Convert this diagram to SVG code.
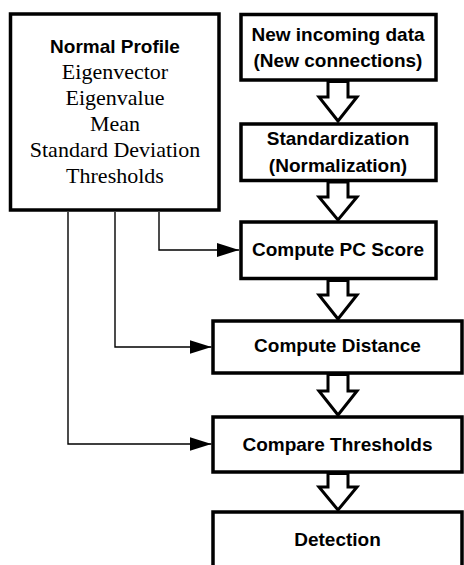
<svg xmlns="http://www.w3.org/2000/svg" width="464" height="565" viewBox="0 0 464 565">
<defs>
<style>
.box{fill:#fff;stroke:#000;stroke-width:3.5}
.blk{fill:#fff;stroke:#000;stroke-width:3;stroke-linejoin:miter}
.ln{fill:none;stroke:#000;stroke-width:1.4}
.t{font-family:"Liberation Sans",Arial,sans-serif;font-weight:bold;font-size:19px;text-anchor:middle;fill:#000}
.s{font-family:"Liberation Serif","Times New Roman",serif;font-size:22px;text-anchor:middle;fill:#000}
</style>
<marker id="ah" markerUnits="userSpaceOnUse" markerWidth="22" markerHeight="14" refX="22" refY="7" orient="auto">
<path d="M0,0 L22,7 L0,14 Z" fill="#000"/>
</marker>
</defs>
<rect width="464" height="565" fill="#fff"/>
<g id="connectors">
<path class="ln" d="M159,212 V250 H239" marker-end="url(#ah)"/>
<path class="ln" d="M115,212 V347 H211.5" marker-end="url(#ah)"/>
<path class="ln" d="M68,212 V444 H211.5" marker-end="url(#ah)"/>
<polygon class="blk" points="328,81.5 328,97 319,97 338,121 357,97 348,97 348,81.5"/>
<polygon class="blk" points="328,182 328,197 319,197 338,220 357,197 348,197 348,182"/>
<polygon class="blk" points="328,280.5 328,295 319,295 338,319 357,295 348,295 348,280.5"/>
<polygon class="blk" points="328,374.5 328,391 319,391 338,415 357,391 348,391 348,374.5"/>
<polygon class="blk" points="328,473.5 328,487 319,487 338,510 357,487 348,487 348,473.5"/>
</g>
<g id="normal-profile">
<rect class="box" x="10.5" y="14" width="208.5" height="196"/>
<text class="t" x="115" y="53" font-size="19.5">Normal Profile</text>
<text class="s" x="115" y="79">Eigenvector</text>
<text class="s" x="115" y="105">Eigenvalue</text>
<text class="s" x="115" y="131">Mean</text>
<text class="s" x="115" y="157">Standard Deviation</text>
<text class="s" x="115" y="183">Thresholds</text>
</g>
<g id="new-data">
<rect class="box" x="241" y="14.5" width="195" height="65.5"/>
<text class="t" x="338" y="41">New incoming data</text>
<text class="t" x="338" y="67">(New connections)</text>
</g>
<g id="standardization">
<rect class="box" x="241" y="124" width="195" height="56.5"/>
<text class="t" x="338" y="145">Standardization</text>
<text class="t" x="338" y="171.5">(Normalization)</text>
</g>
<g id="pc-score">
<rect class="box" x="241" y="222" width="195" height="56.5"/>
<text class="t" x="338" y="256">Compute PC Score</text>
</g>
<g id="distance">
<rect class="box" x="213" y="321" width="249" height="52"/>
<text class="t" x="337.5" y="352">Compute Distance</text>
</g>
<g id="compare">
<rect class="box" x="213" y="417" width="249" height="55"/>
<text class="t" x="337.5" y="451">Compare Thresholds</text>
</g>
<g id="detection">
<rect class="box" x="213" y="512" width="249" height="70"/>
<text class="t" x="337.5" y="545.5">Detection</text>
</g>
</svg>
